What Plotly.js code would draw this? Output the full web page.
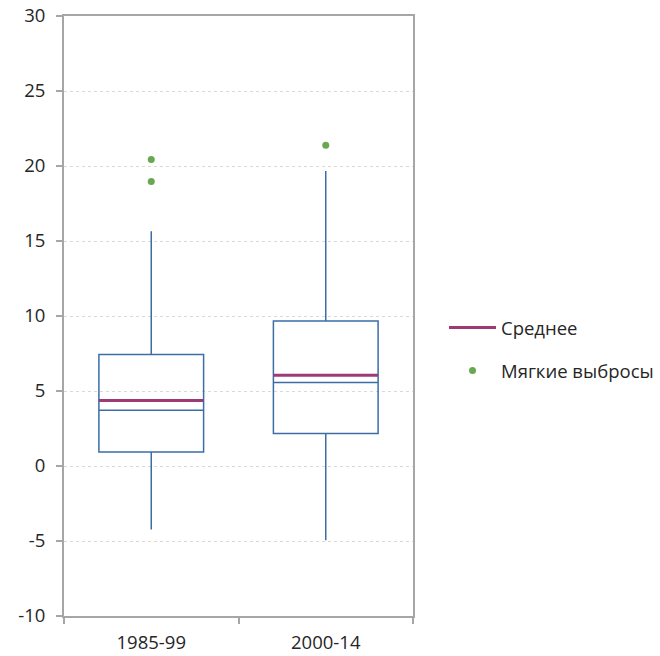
<!DOCTYPE html>
<html>
<head>
<meta charset="utf-8">
<script src="https://cdn.plot.ly/plotly-3.0.1.min.js"></script>
<style>html,body{margin:0;padding:0;background:#fff;}#chart{width:660px;height:656px;}</style>
</head>
<body>
<div id="chart"></div>
<script>
const categories = ['1985-99', '2000-14'];
const q1 = [0.93, 2.16];
const median = [3.71, 5.56];
const q3 = [7.43, 9.67];
const lowerWhisker = [-4.24, -4.95];
const upperWhisker = [15.65, 19.67];
const means = [4.36, 6.05];
const outlierCategories = ['1985-99', '1985-99', '2000-14'];
const outlierValues = [20.43, 18.96, 21.38];
const seriesNames = ['Среднее', 'Мягкие выбросы'];
const yTickValues = [-10, -5, 0, 5, 10, 15, 20, 25, 30];
const yTickLabels = ['-10', '-5', '0', '5', '10', '15', '20', '25', '30'];

const BOX_W = 0.6;
const FONT = 'Open Sans, Noto Sans, sans-serif';
const AXIS_GRAY = '#a6a6a6';
const TXT = '#262626';

const meanX = [], meanY = [];
categories.forEach((c, i) => {
  meanX.push(i - BOX_W / 2, i + BOX_W / 2, null);
  meanY.push(means[i], means[i], null);
});

const traces = [
  {
    type: 'box',
    x: categories,
    q1: q1, median: median, q3: q3,
    lowerfence: lowerWhisker, upperfence: upperWhisker,
    width: BOX_W,
    fillcolor: 'rgba(255,255,255,0)',
    line: {color: '#3A6EA5', width: 1.5},
    whiskerwidth: 0,
    showlegend: false,
    hoverinfo: 'skip'
  },
  {
    type: 'scatter', mode: 'lines',
    x: meanX, y: meanY, xaxis: 'x2',
    name: seriesNames[0],
    line: {color: '#9E3A74', width: 3},
    legendgroup: 'a'
  },
  {
    type: 'scatter', mode: 'markers',
    x: outlierCategories, y: outlierValues,
    name: seriesNames[1],
    marker: {color: '#6AA84F', size: 7},
    legendgroup: 'b'
  }
];

const layout = {
  width: 660, height: 656,
  margin: {l: 64, r: 247, t: 16, b: 40},
  paper_bgcolor: '#fff', plot_bgcolor: '#fff',
  font: {family: FONT, size: 18.5, color: TXT},
  showlegend: true,
  legend: {
    xref: 'container', yref: 'container',
    x: 444 / 660, xanchor: 'left', y: 1 - 309 / 656, yanchor: 'top',
    font: {family: FONT, size: 18.5, color: TXT},
    itemwidth: 47, tracegroupgap: 16, traceorder: 'grouped',
    bgcolor: 'rgba(0,0,0,0)'
  },
  xaxis: {
    type: 'category', range: [-0.5, 1.5], automargin: false,
    tickson: 'boundaries', ticks: 'outside', ticklen: 6, tickwidth: 2, tickcolor: AXIS_GRAY,
    ticklabelstandoff: 9,
    showline: true, linecolor: AXIS_GRAY, linewidth: 2, mirror: true,
    showgrid: false, zeroline: false,
    tickfont: {family: FONT, size: 18.5, color: TXT}
  },
  xaxis2: {
    overlaying: 'x', range: [-0.5, 1.5], visible: false, type: 'linear'
  },
  yaxis: {
    range: [-10, 30], tickmode: 'array', tickvals: yTickValues, ticktext: yTickLabels,
    automargin: false,
    ticks: 'outside', ticklen: 6, tickwidth: 2, tickcolor: AXIS_GRAY,
    ticklabelstandoff: 7,
    showline: true, linecolor: AXIS_GRAY, linewidth: 2, mirror: true,
    showgrid: true, gridcolor: '#d9d9d9', griddash: 'dot', gridwidth: 1,
    zeroline: false,
    tickfont: {family: FONT, size: 18.5, color: TXT}
  }
};

Plotly.newPlot('chart', traces, layout, {displayModeBar: false, staticPlot: true});
</script>
</body>
</html>
